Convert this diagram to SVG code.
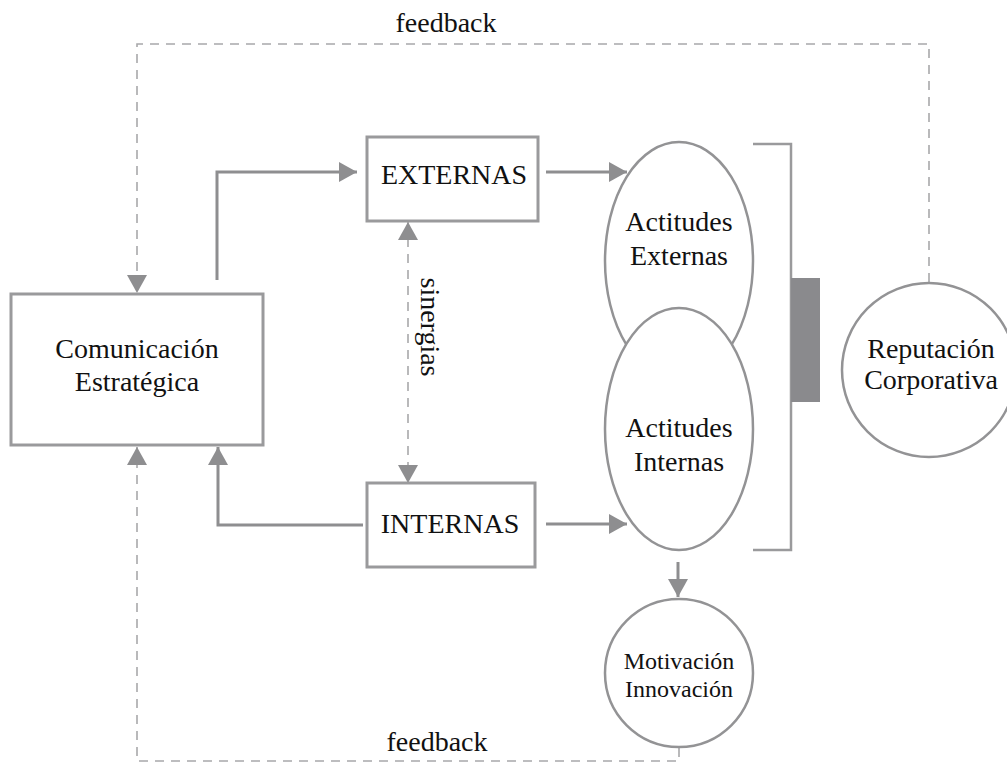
<svg xmlns="http://www.w3.org/2000/svg" width="1007" height="764" viewBox="0 0 1007 764">
<defs>
<style>
.t{font-family:"Liberation Serif","Times New Roman",serif;font-size:28px;fill:#111;text-anchor:middle}
.s{font-size:24px}
.box{fill:#fff;stroke:#9a9a9c;stroke-width:3}
.ell{fill:#fff;stroke:#939395;stroke-width:2.5}
.ln{fill:none;stroke:#8e8e90;stroke-width:3}
.dash{fill:none;stroke:#a8a8aa;stroke-width:1.6;stroke-dasharray:9 7}
</style>
<marker id="ah" viewBox="0 0 18 20" markerUnits="userSpaceOnUse" markerWidth="18" markerHeight="20" refX="18" refY="10" orient="auto-start-reverse">
<path d="M0,0 L18,10 L0,20 z" fill="#8e8e90"/>
</marker>
</defs>
<rect width="1007" height="764" fill="#fff"/>

<g id="connectors">
<path class="dash" d="M929,282 V44 H137 V293" marker-end="url(#ah)"/>
<path class="dash" d="M679,748 V761 H137 V447" marker-end="url(#ah)"/>
<path class="ln" d="M217,280 V172 H357" marker-end="url(#ah)"/>
<path class="ln" d="M546,172 H627" marker-end="url(#ah)"/>
<path class="ln" d="M546,524 H627" marker-end="url(#ah)"/>
<path class="ln" d="M363,525 H218 V447" marker-end="url(#ah)"/>
<path class="dash" d="M408,222 V483" marker-start="url(#ah)" marker-end="url(#ah)"/>
<path class="ln" d="M678,562 V597" marker-end="url(#ah)"/>
</g>

<g id="labels">
<text class="t" x="446" y="32">feedback</text>
<text class="t" x="437" y="751">feedback</text>
<text class="t" transform="translate(421,327) rotate(90)" x="0" y="0">sinergias</text>
</g>

<g id="comunicacion">
<rect class="box" x="11" y="294" width="252" height="151"/>
<text class="t" x="137" y="358">Comunicación</text>
<text class="t" x="137" y="391">Estratégica</text>
</g>

<g id="externas">
<rect class="box" x="367" y="137" width="171" height="84"/>
<text class="t" x="454" y="184">EXTERNAS</text>
</g>

<g id="internas">
<rect class="box" x="367" y="483" width="168" height="84"/>
<text class="t" x="450" y="533">INTERNAS</text>
</g>

<g id="actitudes-externas">
<ellipse class="ell" cx="679" cy="261" rx="74" ry="119"/>
<text class="t" x="679" y="231">Actitudes</text>
<text class="t" x="679" y="265">Externas</text>
</g>

<g id="actitudes-internas">
<ellipse class="ell" cx="679" cy="429" rx="74" ry="121"/>
<text class="t" x="679" y="437">Actitudes</text>
<text class="t" x="679" y="471">Internas</text>
</g>

<g id="bracket">
<polyline class="ln" points="753,144 791,144 791,550 753,550" style="stroke:#9a9a9c;stroke-width:2.5"/>
<rect x="791" y="278" width="29" height="124" fill="#8a8a8d"/>
</g>

<g id="reputacion">
<ellipse class="ell" cx="929" cy="370" rx="87" ry="87"/>
<text class="t" x="931" y="358">Reputación</text>
<text class="t" x="931" y="389">Corporativa</text>
</g>

<g id="motivacion">
<circle class="ell" cx="679" cy="673" r="74"/>
<text class="t s" x="679" y="669">Motivación</text>
<text class="t s" x="679" y="697">Innovación</text>
</g>
</svg>
